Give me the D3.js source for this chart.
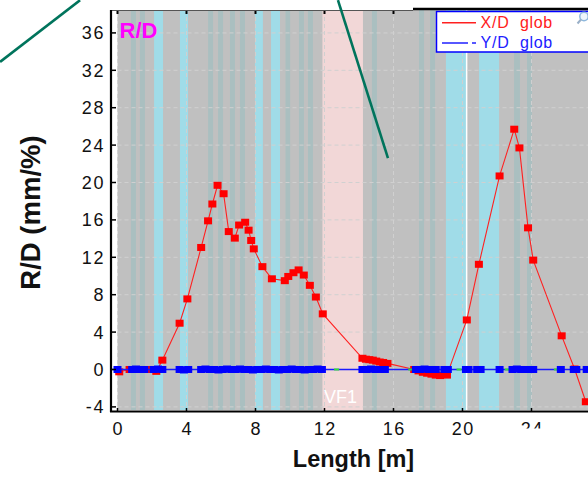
<!DOCTYPE html>
<html>
<head>
<meta charset="utf-8">
<script src="https://cdn.jsdelivr.net/npm/d3@7"></script>
<style>
  html, body { margin: 0; padding: 0; background: #fff; }
  svg { display: block; font-family: "Liberation Sans", Arial, sans-serif; }
</style>
</head>
<body>
<svg id="chart" width="588" height="477"></svg>
<script>
// Axis ticks
const xTicks = [0, 4, 8, 12, 16, 20, 24];
const yTicks = [-4, 0, 4, 8, 12, 16, 20, 24, 28, 32, 36];

// Segment bands along the length [from, to] in metres
const grayBand = [0, 27.3];
const cyanBands = [[2.12, 2.64], [3.62, 4.09], [7.97, 8.43], [8.90, 9.42], [19.04, 20.26], [20.96, 22.12]];
const tealStripes = [[0.78, 1.07], [1.30, 1.59], [5.25, 5.54], [5.83, 6.12], [6.52, 6.81], [7.10, 7.39],
  [9.74, 10.01], [10.52, 10.81], [11.04, 11.33], [14.75, 15.04], [17.48, 17.77], [18.12, 18.41],
  [22.99, 23.33], [23.74, 24.03]];
const vfBand = [11.88, 14.23];
const vfLabel = "VF1";
const markerLine = 20.24;

// X/D glob  [length m, R/D mm/%]
const xdGlob = [
  [0.1, -0.25], [0.7, 0], [1.4, 0], [2.0, 0], [2.25, -0.2], [2.6, 1.0], [3.6, 4.95], [4.05, 7.55],
  [4.85, 13.05], [5.25, 15.9], [5.5, 17.7], [5.8, 19.7], [6.15, 18.8], [6.45, 14.75], [6.8, 14.05],
  [7.05, 15.45], [7.4, 15.75], [7.6, 14.9], [7.75, 13.8], [7.9, 12.9], [8.4, 11.0], [8.95, 9.7],
  [9.7, 9.5], [9.9, 9.95], [10.2, 10.35], [10.5, 10.65], [10.8, 10.1], [11.15, 9.0], [11.5, 7.75],
  [11.9, 5.95], [14.2, 1.2], [14.4, 1.1], [14.6, 1.05], [14.8, 1.0], [15.0, 0.9], [15.2, 0.8],
  [15.4, 0.75], [15.65, 0.65], [17.2, 0.0], [17.45, -0.15], [17.7, -0.3], [17.95, -0.4],
  [18.2, -0.5], [18.45, -0.6], [18.7, -0.65], [19.1, -0.6], [20.25, 5.3], [20.95, 11.25],
  [22.15, 20.7], [23.0, 25.7], [23.3, 23.7], [23.8, 15.15], [24.1, 11.7], [25.75, 3.6],
  [26.5, 0.05], [27.15, -3.45]
];

// Y/D glob  [length m, R/D mm/%]
const ydGlob = [
  [0.0, 0], [0.85, 0], [1.07, 0.05], [1.3, 0], [1.55, 0], [2.1, 0], [2.35, 0.05], [2.6, 0],
  [3.6, 0], [3.85, -0.05], [4.1, 0], [4.85, 0], [5.1, 0.05], [5.35, 0], [5.6, 0], [5.85, -0.05],
  [6.1, 0], [6.35, 0.05], [6.6, 0], [6.85, 0], [7.1, 0.05], [7.35, 0], [7.6, 0], [7.85, -0.05],
  [8.1, 0], [8.35, 0], [8.6, 0.05], [8.85, 0], [9.1, 0], [9.35, -0.05], [9.6, 0], [9.85, 0],
  [10.1, 0.05], [10.35, 0], [10.6, 0], [10.85, -0.05], [11.1, 0], [11.35, 0], [11.6, 0.05],
  [11.85, 0], [14.2, 0], [14.45, 0], [14.7, 0.05], [14.95, 0], [15.2, 0], [15.5, 0],
  [17.3, 0], [17.55, 0], [17.8, 0.05], [18.05, 0], [18.25, 0], [18.45, 0], [18.95, 0], [19.15, 0],
  [20.2, 0], [20.35, 0], [20.85, 0], [21.05, 0], [22.15, 0], [22.9, 0], [23.15, 0.05], [23.4, 0],
  [23.65, 0], [23.9, 0], [24.1, 0], [25.7, 0], [26.45, 0], [26.6, 0], [27.2, 0]
];

// Third component, almost completely hidden under Y/D
const zdGlob = [12.7, 17.0, 19.8, 21.1, 22.6, 25.45];

// Callout strokes that cross the panel [x m, y mm/%]
const callouts = [
  [[-6.81, 32.9], [-2.17, 39.5]],
  [[12.78, 39.5], [15.68, 22.6]]
];

const legendItems = [
  { name: "X/D", tag: "glob", color: "#ff2020", dash: null },
  { name: "Y/D", tag: "glob", color: "#2020ff", dash: "26,4,4,20" }
];

const svg = d3.select("#chart");
const pL = 111, pR = 588, pT = 10, pB = 411;

const x = d3.scaleLinear().domain([-0.377, 27.276]).range([pL, pR]);
const y = d3.scaleLinear().domain([-4.44, 38.45]).range([pB, pT]);

svg.append("defs").append("clipPath").attr("id", "plotClip")
  .append("rect").attr("x", pL).attr("y", pT).attr("width", pR - pL).attr("height", pB - pT);

const plot = svg.append("g").attr("clip-path", "url(#plotClip)");
const bandTop = pT, bandBot = pB - 1;

// Background bands
plot.append("rect")
  .attr("x", x(grayBand[0])).attr("width", x(grayBand[1]) - x(grayBand[0]) + 10)
  .attr("y", bandTop).attr("height", bandBot - bandTop).attr("fill", "#c0c0c0");
plot.selectAll(".teal").data(tealStripes).join("rect")
  .attr("x", d => x(d[0])).attr("width", d => x(d[1]) - x(d[0]))
  .attr("y", bandTop).attr("height", bandBot - bandTop).attr("fill", "#aabfc0");
plot.selectAll(".cyan").data(cyanBands).join("rect")
  .attr("x", d => x(d[0])).attr("width", d => x(d[1]) - x(d[0]))
  .attr("y", bandTop).attr("height", bandBot - bandTop).attr("fill", "#a0dce8");
plot.append("rect")
  .attr("x", x(vfBand[0])).attr("width", x(vfBand[1]) - x(vfBand[0]))
  .attr("y", bandTop).attr("height", bandBot - bandTop).attr("fill", "#f2d7d7");
plot.append("line")
  .attr("x1", x(markerLine)).attr("x2", x(markerLine))
  .attr("y1", bandTop).attr("y2", bandBot)
  .attr("stroke", "#ffffff").attr("stroke-width", 1.5);

// Dashed grid
plot.selectAll(".vgrid").data(xTicks).join("line")
  .attr("x1", d => x(d)).attr("x2", d => x(d))
  .attr("y1", bandTop).attr("y2", bandBot)
  .attr("stroke", "#d0d0d0").attr("stroke-width", 1).attr("stroke-dasharray", "4,3");
plot.selectAll(".hgrid").data(yTicks).join("line")
  .attr("x1", x(0)).attr("x2", pR)
  .attr("y1", d => y(d)).attr("y2", d => y(d))
  .attr("stroke", "#d0d0d0").attr("stroke-width", 1).attr("stroke-dasharray", "4,3");

// VF1 tag
plot.append("text")
  .attr("x", x(vfBand[0]) + 1.5).attr("y", bandBot - 7)
  .attr("fill", "#ffffff").attr("font-size", 18).text(vfLabel);

const line = d3.line().x(d => x(d[0])).y(d => y(d[1]));

// X/D glob
plot.append("path").datum(xdGlob).attr("d", line)
  .attr("fill", "none").attr("stroke", "#ff2020").attr("stroke-width", 1.1);
plot.selectAll(".xd").data(xdGlob).join("rect")
  .attr("x", d => x(d[0]) - 4).attr("y", d => y(d[1]) - 3.5)
  .attr("width", 8).attr("height", 7).attr("fill", "#ff0000");

// Y/D glob line, hidden third component, then Y/D markers
plot.append("path").datum([[x.domain()[0], 0], ...ydGlob, [x.domain()[1], 0]]).attr("d", line)
  .attr("fill", "none").attr("stroke", "#1a1aff").attr("stroke-width", 1.3);
plot.selectAll(".zd").data(zdGlob).join("rect")
  .attr("x", d => x(d) - 2.5).attr("y", y(0) - 1)
  .attr("width", 5).attr("height", 2).attr("fill", "#33dd33");
plot.selectAll(".yd").data(ydGlob).join("rect")
  .attr("x", d => x(d[0]) - 4).attr("y", d => y(d[1]) - 3.5)
  .attr("width", 8).attr("height", 7).attr("fill", "#0000ff");

// Frame
svg.append("line").attr("x1", pL).attr("x2", 413).attr("y1", pT + 0.5).attr("y2", pT + 0.5)
  .attr("stroke", "#555").attr("stroke-width", 1);
svg.append("line").attr("x1", 413).attr("x2", pR).attr("y1", 9).attr("y2", 9)
  .attr("stroke", "#000").attr("stroke-width", 2.5);
svg.append("line").attr("x1", pL).attr("x2", pL).attr("y1", pT).attr("y2", pB + 1)
  .attr("stroke", "#000").attr("stroke-width", 2.2);
svg.append("line").attr("x1", pL - 1).attr("x2", pR).attr("y1", pB + 0.5).attr("y2", pB + 0.5)
  .attr("stroke", "#000").attr("stroke-width", 2.2);

// Y axis ticks and labels
svg.selectAll(".ytick").data(yTicks).join("line")
  .attr("x1", pL).attr("x2", pL + 5).attr("y1", d => y(d)).attr("y2", d => y(d))
  .attr("stroke", "#000").attr("stroke-width", 1.5);
svg.selectAll(".ylab").data(yTicks).join("text")
  .attr("x", 105).attr("y", d => y(d)).attr("dy", "0.36em")
  .attr("text-anchor", "end").attr("font-size", 18).attr("letter-spacing", 1.6)
  .attr("fill", "#111").text(d => d);

// X axis ticks and labels
svg.selectAll(".xtick").data(xTicks).join("line")
  .attr("x1", d => x(d)).attr("x2", d => x(d)).attr("y1", pB - 3).attr("y2", pB)
  .attr("stroke", "#000").attr("stroke-width", 1.5);
svg.selectAll(".ttick").data(xTicks.filter(d => x(d) < 430)).join("line")
  .attr("x1", d => x(d)).attr("x2", d => x(d)).attr("y1", pT + 1).attr("y2", pT + 4)
  .attr("stroke", "#000").attr("stroke-width", 2);
svg.selectAll(".xlab").data(xTicks).join("text")
  .attr("x", d => x(d) + 0.8).attr("y", 434.5)
  .attr("text-anchor", "middle").attr("font-size", 18).attr("letter-spacing", 1.6)
  .attr("fill", "#111").text(d => d);
// lower part of the last label sits behind a white strip
svg.append("rect").attr("x", x(24) - 16).attr("y", 428.5).attr("width", 34).attr("height", 12).attr("fill", "#fff");

// Axis titles
svg.append("text")
  .attr("transform", `translate(40, ${(pT + pB) / 2 + 2}) rotate(-90)`)
  .attr("text-anchor", "middle").attr("font-size", 27.5).attr("font-weight", "bold")
  .attr("fill", "#111").text("R/D (mm/%)");
svg.append("text")
  .attr("x", 353.5).attr("y", 466.5).attr("text-anchor", "middle")
  .attr("font-size", 23.5).attr("font-weight", "bold").attr("fill", "#111").text("Length [m]");

// Panel tag
svg.append("text").attr("x", 119.5).attr("y", 37.5)
  .attr("font-size", 22).attr("font-weight", "bold").attr("fill", "#ff00ff").text("R/D");

// Legend
const lg = svg.append("g");
lg.append("rect").attr("x", 436.5).attr("y", 11.5).attr("width", 160).attr("height", 40.5)
  .attr("fill", "#fff").attr("stroke", "#0000ff").attr("stroke-width", 1.5);
legendItems.forEach((it, i) => {
  const yy = 22.7 + i * 20.3;
  lg.append("line").attr("x1", 442).attr("x2", 476).attr("y1", yy).attr("y2", yy)
    .attr("stroke", it.color).attr("stroke-width", 1.4)
    .attr("stroke-dasharray", it.dash);
  lg.append("text").attr("x", 480.5).attr("y", yy + 5.2).attr("font-size", 16).attr("letter-spacing", 0.8)
    .attr("fill", it.color).text(it.name);
  lg.append("text").attr("x", 520).attr("y", yy + 5.2).attr("font-size", 16).attr("letter-spacing", 0.6)
    .attr("fill", it.color).text(it.tag);
});
// zoom glyph in the legend corner
lg.append("circle").attr("cx", 584).attr("cy", 16.5).attr("r", 4.2)
  .attr("fill", "#eef6fc").attr("stroke", "#8fb8dc").attr("stroke-width", 1.5);
lg.append("line").attr("x1", 581).attr("y1", 19.5).attr("x2", 577.5).attr("y2", 23.5)
  .attr("stroke", "#9ab0c8").attr("stroke-width", 2);

// Callout strokes
svg.selectAll(".callout").data(callouts).join("path")
  .attr("d", line).attr("fill", "none")
  .attr("stroke", "#00745c").attr("stroke-width", 2.6);
</script>
</body>
</html>
